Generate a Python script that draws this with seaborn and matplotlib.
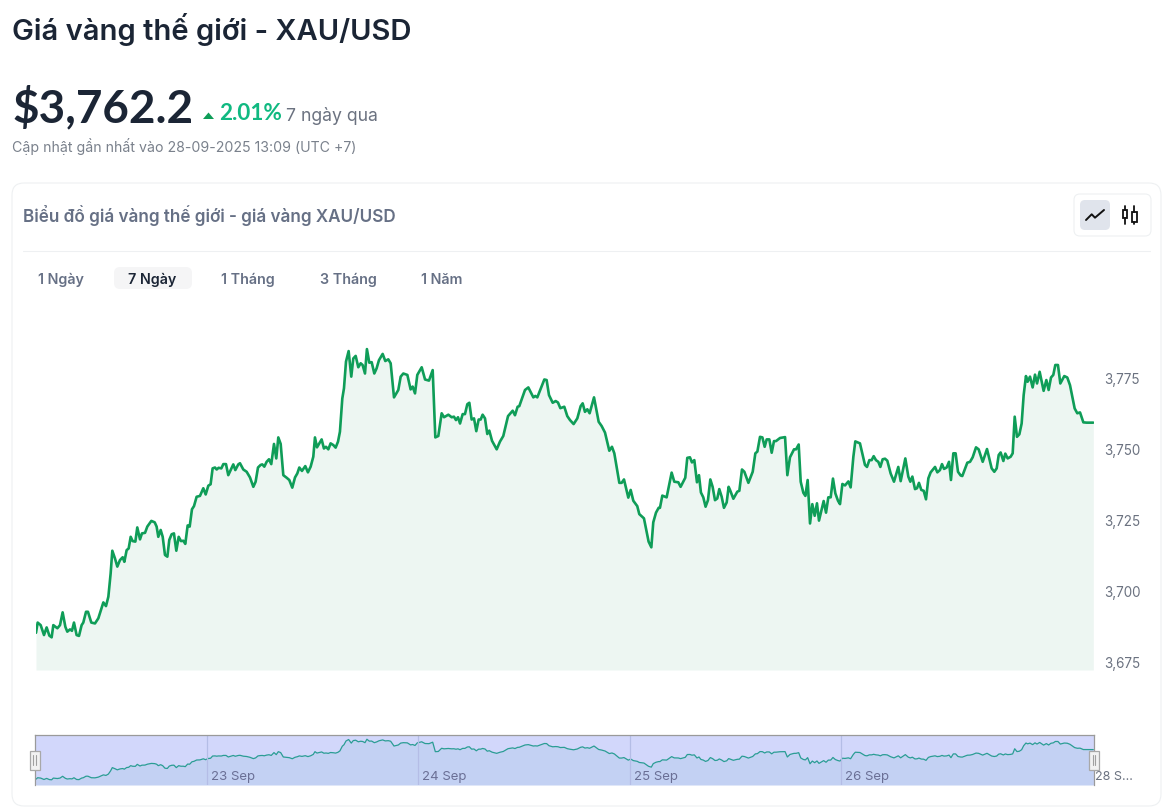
import matplotlib
matplotlib.use("Agg")
import matplotlib.pyplot as plt
import matplotlib.patches as mpatches
import pandas as pd
import seaborn as sns

W, H = 1169, 807
FONT = "Inter"

# hours since the start of the 7 day window
hours = [
    0.00, 0.19, 0.53, 0.91, 1.21, 1.52, 1.78, 1.97, 2.43, 2.73, 3.03, 3.34, 3.56, 3.87, 4.09, 4.32, 4.62, 4.89, 5.19, 5.38,
    5.69, 5.91, 6.29, 6.71, 7.09, 7.66, 7.96, 8.23, 8.49, 8.68, 8.98, 9.25, 9.55, 9.86, 10.05, 10.31, 10.54, 10.77, 10.99, 11.30,
    11.52, 11.83, 12.05, 12.40, 12.66, 13.12, 13.50, 13.72, 13.91, 14.18, 14.41, 14.67, 14.94, 15.16, 15.43, 15.69, 15.96, 16.23, 16.49, 16.76,
    16.98, 17.25, 17.48, 17.74, 17.97, 18.27, 18.65, 19.03, 19.30, 19.60, 19.86, 20.09, 20.36, 20.55, 20.77, 21.08, 21.31, 21.61, 21.87, 22.14,
    22.44, 22.67, 23.01, 23.20, 23.58, 23.96, 24.34, 24.72, 24.98, 25.25, 25.55, 25.74, 25.97, 26.23, 26.50, 26.76, 27.07, 27.33, 27.56, 27.83,
    28.13, 28.51, 28.81, 29.15, 29.46, 29.72, 29.95, 30.25, 30.63, 30.93, 31.24, 31.54, 31.73, 31.96, 32.22, 32.49, 32.75, 32.98, 33.25, 33.51,
    33.82, 34.08, 34.35, 34.57, 34.84, 35.03, 35.26, 35.56, 35.86, 36.09, 36.36, 36.66, 36.93, 37.15, 37.42, 37.64, 37.91, 38.18, 38.48, 38.74,
    39.01, 39.43, 39.73, 40.07, 40.34, 40.72, 41.21, 41.48, 41.78, 42.24, 42.61, 42.84, 43.11, 43.37, 43.87, 44.25, 44.70, 45.12, 45.42, 45.76,
    46.14, 46.41, 46.90, 47.28, 47.54, 47.77, 48.00, 48.23, 48.53, 48.79, 49.06, 49.29, 49.55, 49.82, 50.08, 50.35, 50.58, 50.80, 51.07, 51.33,
    51.56, 51.87, 52.40, 52.77, 53.15, 53.69, 54.22, 54.48, 54.78, 54.97, 55.62, 56.00, 56.57, 56.79, 57.02, 57.51, 57.82, 58.08, 58.35, 58.77,
    59.11, 59.37, 59.64, 60.09, 60.43, 60.74, 61.15, 61.57, 61.95, 62.18, 62.44, 62.71, 62.97, 63.47, 64.00, 64.34, 64.72, 65.21, 65.51, 65.78,
    66.35, 66.61, 66.88, 67.37, 67.64, 67.94, 68.39, 68.62, 69.15, 69.68, 69.99, 70.21, 70.52, 70.82, 70.97, 71.24, 71.73, 72.30, 72.60, 73.06,
    73.32, 73.85, 74.08, 74.38, 74.61, 74.88, 75.18, 75.41, 75.63, 75.90, 76.16, 76.43, 76.70, 76.96, 77.23, 77.49, 77.72, 77.99, 78.25, 78.56,
    78.78, 78.94, 79.32, 79.77, 80.00, 80.30, 80.57, 81.03, 81.52, 81.82, 82.05, 82.35, 82.62, 82.88, 83.11, 83.41, 83.68, 83.94, 84.17, 84.63,
    85.20, 85.46, 85.76, 86.22, 86.45, 86.75, 86.98, 87.28, 87.51, 87.77, 88.04, 88.30, 88.57, 88.83, 89.06, 89.59, 89.86, 90.12, 90.39, 90.65,
    90.92, 91.22, 91.45, 91.72, 92.02, 92.40, 92.66, 92.97, 93.19, 93.72, 94.29, 94.52, 94.79, 95.05, 95.28, 95.54, 95.81, 96.04, 96.30, 96.57,
    96.83, 97.21, 97.59, 98.08, 98.35, 98.88, 99.22, 99.45, 99.68, 99.98, 100.21, 100.43, 100.70, 100.97, 101.23, 101.50, 101.76, 102.26, 102.52, 102.82,
    103.05, 103.28, 103.58, 103.85, 104.07, 104.34, 104.60, 104.87, 105.17, 105.36, 105.93, 106.24, 106.54, 106.92, 107.22, 107.68, 108.17, 108.70, 109.00, 109.27,
    109.50, 109.72, 110.03, 110.25, 110.52, 110.86, 111.09, 111.32, 111.58, 111.85, 112.11, 112.34, 112.60, 112.79, 113.06, 113.36, 113.63, 113.86, 114.16, 114.61,
    114.92, 115.18, 115.45, 115.71, 115.94, 116.24, 116.51, 116.96, 117.30, 117.61, 118.14, 118.44, 118.75, 119.13, 119.50, 120.26,
]
prices = [
    3685.3, 3688.9, 3688.0, 3684.5, 3687.2, 3684.3, 3683.7, 3688.0, 3686.9, 3688.0, 3692.5, 3687.4, 3685.7, 3686.5, 3686.0, 3688.9, 3684.5, 3684.2, 3688.0, 3688.9,
    3692.7, 3692.7, 3688.9, 3688.6, 3690.4, 3696.0, 3694.7, 3698.0, 3706.2, 3714.2, 3711.5, 3708.6, 3710.9, 3711.9, 3710.3, 3714.4, 3715.0, 3719.1, 3717.6, 3717.4,
    3722.4, 3718.2, 3720.3, 3720.5, 3722.7, 3724.7, 3724.2, 3722.7, 3719.1, 3721.5, 3719.1, 3712.7, 3712.1, 3718.0, 3720.0, 3720.3, 3714.2, 3719.1, 3717.6, 3717.7,
    3716.6, 3723.1, 3722.7, 3728.8, 3729.9, 3733.2, 3733.5, 3736.2, 3734.0, 3737.1, 3737.6, 3743.2, 3743.5, 3742.8, 3743.4, 3743.2, 3744.7, 3744.7, 3740.8, 3742.6,
    3744.6, 3742.6, 3744.6, 3745.0, 3742.8, 3742.0, 3740.0, 3736.7, 3738.5, 3743.5, 3744.4, 3744.6, 3743.8, 3745.5, 3746.4, 3744.7, 3751.8, 3746.7, 3754.1, 3751.8,
    3740.8, 3739.9, 3739.1, 3736.4, 3740.0, 3741.4, 3743.5, 3742.3, 3744.0, 3741.8, 3743.8, 3747.3, 3754.1, 3750.6, 3752.0, 3753.4, 3750.2, 3750.8, 3749.9, 3752.0,
    3751.4, 3750.5, 3752.6, 3756.1, 3767.8, 3771.4, 3780.8, 3784.5, 3775.5, 3781.9, 3782.8, 3778.8, 3780.2, 3779.6, 3776.6, 3785.2, 3780.4, 3780.6, 3776.6, 3778.4,
    3781.3, 3783.5, 3781.0, 3781.6, 3780.2, 3768.2, 3770.8, 3775.5, 3776.6, 3776.1, 3771.0, 3772.0, 3769.6, 3776.1, 3778.8, 3774.5, 3774.1, 3777.8, 3754.1, 3754.6,
    3762.6, 3761.2, 3762.1, 3761.2, 3761.4, 3760.2, 3761.2, 3759.0, 3762.3, 3762.3, 3765.8, 3766.3, 3760.4, 3760.8, 3756.3, 3760.4, 3760.4, 3762.1, 3760.8, 3755.3,
    3756.5, 3752.9, 3749.9, 3752.6, 3754.6, 3761.6, 3763.5, 3761.9, 3764.9, 3765.1, 3770.8, 3771.7, 3768.2, 3768.7, 3768.2, 3772.0, 3774.5, 3774.3, 3769.0, 3766.3,
    3766.9, 3766.4, 3764.4, 3764.9, 3761.6, 3760.2, 3758.8, 3760.8, 3765.1, 3766.1, 3763.1, 3764.0, 3762.6, 3768.2, 3759.6, 3758.1, 3755.8, 3749.4, 3750.8, 3748.5,
    3738.1, 3738.1, 3739.3, 3732.9, 3735.6, 3731.8, 3729.9, 3727.1, 3725.6, 3717.4, 3715.4, 3724.2, 3727.6, 3729.3, 3729.3, 3733.6, 3733.0, 3741.7, 3738.5, 3738.3,
    3736.7, 3739.9, 3746.9, 3747.1, 3745.3, 3746.1, 3738.3, 3740.8, 3734.7, 3733.0, 3729.7, 3732.0, 3739.3, 3736.7, 3732.0, 3732.6, 3735.9, 3733.2, 3729.3, 3731.2,
    3736.7, 3735.6, 3732.5, 3735.0, 3735.3, 3742.8, 3742.0, 3738.1, 3742.0, 3748.5, 3749.1, 3754.3, 3754.1, 3750.8, 3753.4, 3753.4, 3748.7, 3752.8, 3752.8, 3753.9,
    3754.2, 3740.8, 3747.1, 3749.9, 3749.9, 3751.6, 3738.5, 3734.6, 3733.5, 3739.1, 3723.8, 3730.6, 3726.5, 3730.9, 3724.8, 3731.7, 3727.6, 3733.0, 3733.0, 3739.6,
    3734.4, 3731.8, 3730.6, 3737.7, 3737.2, 3738.6, 3736.5, 3747.3, 3752.7, 3752.0, 3744.4, 3743.7, 3746.1, 3746.1, 3747.5, 3746.1, 3745.5, 3743.7, 3746.4, 3746.6,
    3745.9, 3741.4, 3738.5, 3743.7, 3738.7, 3746.7, 3740.3, 3738.5, 3740.3, 3735.9, 3736.2, 3738.1, 3735.6, 3735.3, 3732.3, 3739.7, 3741.8, 3743.7, 3741.8, 3742.6,
    3744.7, 3743.0, 3743.5, 3745.5, 3739.1, 3748.5, 3748.5, 3742.0, 3740.7, 3740.5, 3745.2, 3745.5, 3747.1, 3750.6, 3749.9, 3745.5, 3750.0, 3743.2, 3742.0, 3743.2,
    3747.9, 3748.8, 3745.8, 3748.4, 3746.7, 3747.3, 3748.5, 3761.4, 3754.3, 3755.2, 3759.0, 3769.0, 3775.7, 3773.7, 3775.5, 3771.7, 3776.2, 3773.1, 3777.2, 3770.5,
    3774.3, 3770.8, 3775.2, 3776.1, 3779.6, 3779.6, 3773.1, 3775.7, 3775.2, 3772.5, 3764.3, 3762.6, 3762.9, 3759.4, 3759.3, 3759.3,
]
y_ticks = [3675, 3700, 3725, 3750, 3775]
day_hours = [19.45, 43.45, 67.56, 91.56]
day_labels = ["23 Sep", "24 Sep", "25 Sep", "26 Sep"]
ranges = ["1 Ngày", "7 Ngày", "1 Tháng", "3 Tháng", "1 Năm"]
range_x = [38, 128, 221, 320, 421]


def axes_px(fig, left, top, right, bottom):
    return fig.add_axes([left / W, 1 - bottom / H, (right - left) / W, (bottom - top) / H])


def rounded(ax, x0, y0, x1, y1, r, fc, ec="none", lw=1.0):
    ax.add_patch(mpatches.FancyBboxPatch((x0 + r, y0 + r), x1 - x0 - 2 * r, y1 - y0 - 2 * r,
                                         boxstyle=f"round,pad={r},rounding_size={r}", fc=fc, ec=ec, lw=lw))


def draw_page(fig):
    ui = fig.add_axes([0, 0, 1, 1])
    ui.set_xlim(0, W)
    ui.set_ylim(H, 0)
    ui.axis("off")

    ui.text(12, 29, "Giá vàng thế giới - XAU/USD", fontsize=21, fontweight=600, color="#1b2535", va="center")
    ui.text(12, 108, "$3,762.2", fontsize=33, fontweight="bold", family="Lato", color="#1b2535", va="center")
    ui.add_patch(mpatches.Polygon([[203, 119], [214, 119], [208.5, 112.5]], fc="#0f9d58", ec="none"))
    ui.text(219, 113, "2.01%", fontsize=16.2, fontweight="bold", family="Lato", color="#10b981", va="center")
    ui.text(286, 116, "7 ngày qua", fontsize=12.7, color="#6b7280", va="center")
    ui.text(12, 146.5, "Cập nhật gần nhất vào 28-09-2025 13:09 (UTC +7)", fontsize=10.2, color="#7a818c", va="center")

    rounded(ui, 12, 183, 1161, 806, 12, "white", "#eef0f2", 0.8)
    ui.text(23, 216, "Biểu đồ giá vàng thế giới - giá vàng XAU/USD", fontsize=12.3, fontweight=600, color="#667085", va="center")
    ui.plot([23, 1150], [251, 251], color="#eef0f2", lw=0.8)

    rounded(ui, 1074, 194, 1151, 236, 6, "white", "#eef0f2", 0.8)
    rounded(ui, 1080, 200, 1110, 230, 5, "#e0e4ec")
    ui.plot([1086, 1091.7, 1095, 1104], [220, 214.3, 217.7, 210], color="#111111", lw=1.4)
    for cx, body_top, body_bottom in [(1125, 210, 218.3), (1134.3, 212.3, 221.7)]:
        ui.plot([cx, cx], [205.7, body_top], color="#111111", lw=1.3)
        ui.plot([cx, cx], [body_bottom, 224.3], color="#111111", lw=1.3)
        ui.add_patch(mpatches.Rectangle((cx - 2.4, body_top), 4.8, body_bottom - body_top, fc="white", ec="#111111", lw=1.3))

    rounded(ui, 114, 267, 192, 289, 6, "#f5f5f6")
    for label, x in zip(ranges, range_x):
        active = label == "7 Ngày"
        ui.text(x, 279.5, label, fontsize=10.3, fontweight=600, color="#1b2535" if active else "#667085", va="center")


def draw_main(fig, df):
    ax = axes_px(fig, 36, 340, 1094, 670)
    ax.patch.set_alpha(0)
    ax.fill_between(df["hours"], df["price"], 3672.2, color="#edf6f2", lw=0)
    sns.lineplot(data=df, x="hours", y="price", estimator=None, sort=False, color="#0f9d58", lw=1.9, ax=ax)
    ax.set_xlim(0, 120.34)
    ax.set_ylim(3672.2, 3788.4)
    ax.set_xlabel("")
    ax.set_ylabel("")
    ax.set_xticks([])
    ax.yaxis.tick_right()
    ax.set_yticks(y_ticks)
    ax.set_yticklabels([f"{v:,}" for v in y_ticks], fontsize=9.7, color="#6b7280")
    ax.tick_params(axis="y", length=0, pad=7)
    sns.despine(ax=ax, left=True, bottom=True, right=True, top=True)


def draw_brush(fig, df):
    ax = axes_px(fig, 34.5, 735, 1094, 785)
    ax.set_facecolor("#d2d7fb")
    ax.fill_between(df["hours"], df["price"], 3670.7, color="#c3d1f3", lw=0)
    sns.lineplot(data=df, x="hours", y="price", estimator=None, sort=False, color="#2a9d94", lw=0.9, ax=ax)
    ax.set_xlim(-0.17, 120.34)
    ax.set_ylim(3670.7, 3795.8)
    ax.set_xlabel("")
    ax.set_ylabel("")
    ax.set_xticks([])
    ax.set_yticks([])
    for spine in ax.spines.values():
        spine.set_color("#9a9a9a")
        spine.set_linewidth(0.9)
    ax.spines["bottom"].set_visible(False)
    for h, label in zip(day_hours, day_labels):
        ax.axvline(h, color="#b4bde6", lw=0.9)
        ax.annotate(label, (h, 3690), xytext=(3, 0), textcoords="offset points", fontsize=9.5,
                    color="#6a6f95", va="center")
    ax.annotate("28 S...", (120.34, 3690), xytext=(1, 0), textcoords="offset points", fontsize=9,
                color="#6b7280", va="center", annotation_clip=False)


def draw_handles(fig):
    top = fig.add_axes([0, 0, 1, 1])
    top.patch.set_alpha(0)
    top.set_xlim(0, W)
    top.set_ylim(H, 0)
    top.axis("off")
    for cx in [34.5, 1094]:
        top.add_patch(mpatches.Rectangle((cx - 5, 750.5), 10, 19, fc="#f2f2f2", ec="#a8a8a8", lw=0.9))
        top.plot([cx - 1.3, cx - 1.3], [755, 765], color="#a0a0a0", lw=0.8)
        top.plot([cx + 1.3, cx + 1.3], [755, 765], color="#a0a0a0", lw=0.8)


def main():
    sns.set_theme(style="white")
    plt.rcParams["font.family"] = [FONT, "Noto Sans", "DejaVu Sans"]
    df = pd.DataFrame({"hours": hours, "price": prices})
    fig = plt.figure(figsize=(W / 100, H / 100), dpi=100)
    draw_page(fig)
    draw_main(fig, df)
    draw_brush(fig, df)
    draw_handles(fig)
    fig.savefig("out.png", dpi=100)
    plt.close(fig)


if __name__ == "__main__":
    main()
